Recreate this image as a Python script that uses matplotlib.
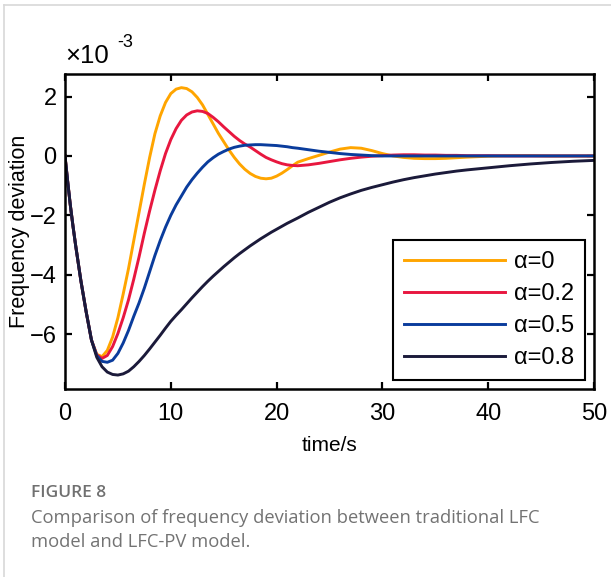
import matplotlib.pyplot as plt
from matplotlib.lines import Line2D

# time axis (s) shared by all four responses
T = [0, 0.25, 0.5, 0.75, 1, 1.5, 2, 2.5, 3,
     3.5, 4, 4.5, 5, 5.5, 6, 6.5, 7, 7.5, 8,
     8.5, 9, 9.5, 10, 10.5, 11, 11.5, 12, 12.5, 13,
     13.5, 14, 14.5, 15, 15.5, 16, 16.5, 17, 17.5, 18,
     18.5, 19, 19.5, 20, 20.5, 21, 21.5, 22,
     23, 24, 25, 26, 27, 28, 29, 30, 31, 32, 33, 34, 35, 36, 37, 38,
     40, 42, 44, 46, 48, 50]

# frequency deviation, x1e-3
DF_A0 = [0, -0.85, -1.65, -2.35, -3.0, -4.2, -5.25, -6.2, -6.68,
         -6.76, -6.55, -6.1, -5.45, -4.65, -3.8, -2.85, -1.9, -0.95, -0.05,
         0.75, 1.35, 1.8, 2.1, 2.25, 2.3, 2.27, 2.16, 1.97, 1.72,
         1.4, 1.08, 0.76, 0.48, 0.2, -0.05, -0.27, -0.45, -0.59, -0.69,
         -0.75, -0.77, -0.75, -0.68, -0.58, -0.46, -0.33, -0.21,
         -0.09, 0.02, 0.13, 0.23, 0.28, 0.26, 0.18, 0.08, 0.0, -0.05, -0.08, -0.09, -0.09, -0.08, -0.06, -0.04,
         -0.01, 0.01, 0.01, 0.0, 0.0, 0.0]
DF_A2 = [0, -0.85, -1.65, -2.35, -3.0, -4.2, -5.25, -6.2, -6.7,
         -6.82, -6.72, -6.42, -5.98, -5.45, -4.85, -4.15, -3.4, -2.6, -1.85,
         -1.15, -0.5, 0.08, 0.55, 0.92, 1.2, 1.38, 1.48, 1.52, 1.5,
         1.43, 1.3, 1.15, 0.98, 0.82, 0.66, 0.52, 0.4, 0.3, 0.18,
         0.06, -0.05, -0.13, -0.2, -0.26, -0.3, -0.32, -0.33,
         -0.3, -0.25, -0.19, -0.13, -0.08, -0.04, -0.01, 0.01, 0.03, 0.04, 0.04, 0.03, 0.03, 0.02, 0.02, 0.01,
         0.01, 0.0, 0.0, 0.0, 0.0, 0.0]
DF_A5 = [0, -0.85, -1.65, -2.35, -3.0, -4.2, -5.25, -6.2, -6.72,
         -6.92, -6.95, -6.88, -6.65, -6.3, -5.88, -5.4, -4.95, -4.45, -3.9,
         -3.35, -2.85, -2.4, -2.0, -1.65, -1.35, -1.05, -0.8, -0.58, -0.38,
         -0.2, -0.06, 0.06, 0.15, 0.23, 0.29, 0.33, 0.36, 0.37, 0.38,
         0.38, 0.37, 0.36, 0.35, 0.33, 0.31, 0.28, 0.26,
         0.21, 0.16, 0.12, 0.08, 0.05, 0.03, 0.01, 0.0, 0.0, 0.0, 0.0, 0.0, 0.0, 0.0, 0.0, 0.0,
         0.0, 0.0, 0.0, 0.0, 0.0, 0.0]
DF_A8 = [0, -0.85, -1.65, -2.35, -3.0, -4.2, -5.25, -6.2, -6.78,
         -7.1, -7.28, -7.36, -7.38, -7.34, -7.25, -7.1, -6.92, -6.72, -6.5,
         -6.27, -6.04, -5.8, -5.57, -5.37, -5.18, -4.98, -4.78, -4.59, -4.4,
         -4.22, -4.05, -3.89, -3.73, -3.58, -3.43, -3.29, -3.16, -3.03, -2.91,
         -2.79, -2.68, -2.57, -2.47, -2.37, -2.27, -2.18, -2.09,
         -1.9, -1.73, -1.56, -1.41, -1.28, -1.16, -1.06, -0.97, -0.88, -0.8, -0.73, -0.67, -0.61, -0.56, -0.51, -0.47,
         -0.4, -0.33, -0.27, -0.22, -0.18, -0.15]

LABELS = ['α=0', 'α=0.2', 'α=0.5', 'α=0.8']
COLORS = ['#ffa500', '#e8173f', '#0a3c9c', '#1b1a3a']
X_TICKS = [0, 10, 20, 30, 40, 50]
Y_TICKS = [2, 0, -2, -4, -6]

plt.rcParams['font.family'] = ['Liberation Sans', 'DejaVu Sans']

fig = plt.figure(figsize=(6.11, 5.77), dpi=100)

# light grey page frame (only top and left edges are visible)
fig.add_artist(Line2D([3.5 / 611, 3.5 / 611], [0, 1 - 5 / 577], color='#d8d8d8', lw=1.2))
fig.add_artist(Line2D([3.5 / 611, 1], [1 - 5 / 577, 1 - 5 / 577], color='#d8d8d8', lw=1.2))

ax = fig.add_axes([65 / 611, 1 - 389 / 577, 529 / 611, 315 / 577])

for ys, lab, c in zip([DF_A0, DF_A2, DF_A5, DF_A8], LABELS, COLORS):
    ax.plot(T, ys, color=c, lw=2.1, label=lab)

ax.set_xlim(0, 50)
ax.set_ylim(-7.85, 2.76)
ax.set_xticks(X_TICKS)
ax.set_yticks(Y_TICKS)
ax.tick_params(direction='in', length=5, width=1.6, labelsize=17,
               top=True, right=True)
ax.tick_params(axis='x', pad=10)
ax.tick_params(axis='y', pad=6)
for s in ax.spines.values():
    s.set_linewidth(1.8)

ax.set_xlabel('time/s', fontsize=15, labelpad=8)
ax.set_ylabel('Frequency deviation', fontsize=15.5, va='center')
ax.yaxis.set_label_coords(-0.086, 0.5)

ax.text(0.0, 1.02, '×10', transform=ax.transAxes, fontsize=18.5, ha='left', va='bottom')
ax.text(0.098, 1.072, '-3', transform=ax.transAxes, fontsize=13, ha='left', va='bottom')

leg = ax.legend(loc='lower right', bbox_to_anchor=(0.983, 0.0286), borderaxespad=0,
                fontsize=17, handlelength=4.3, handletextpad=0.38, borderpad=0.45,
                labelspacing=0.43, fancybox=False, framealpha=1, edgecolor='black')
leg.get_frame().set_linewidth(1.5)

fig.text(31 / 611, 1 - 493 / 577, 'FIGURE 8', family=['Open Sans', 'DejaVu Sans'],
         weight='semibold', fontsize=12.5, color='#707070', va='center')
fig.text(31 / 611, 1 - 518 / 577, 'Comparison of frequency deviation between traditional LFC',
         family=['Open Sans', 'DejaVu Sans'], fontsize=13.2, color='#737373', va='center')
fig.text(31 / 611, 1 - 542 / 577, 'model and LFC-PV model.',
         family=['Open Sans', 'DejaVu Sans'], fontsize=13.2, color='#737373', va='center')

fig.savefig('out.png', dpi=100)
